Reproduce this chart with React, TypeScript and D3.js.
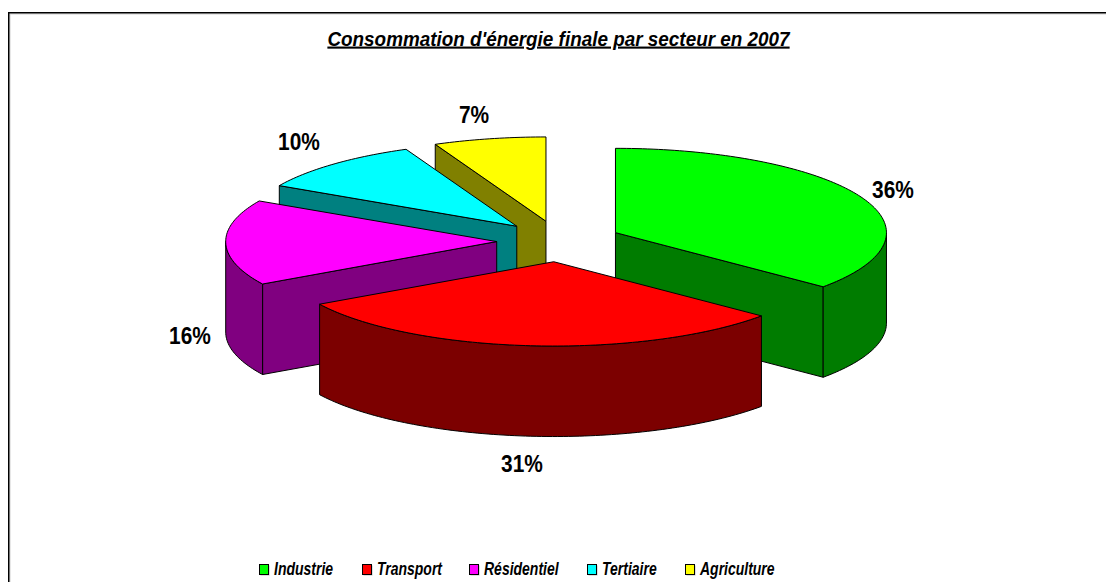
import React, { useEffect, useRef } from 'react';
import * as d3 from 'd3';

// Values (labels are rounded to whole percents)
const sectors = ['Industrie', 'Transport', 'Résidentiel', 'Tertiaire', 'Agriculture'];
const shares = [36.1, 30.5, 16.4, 10.3, 6.7];
const shareLabels = ['36%', '31%', '16%', '10%', '7%'];
const topColors = ['#00ff00', '#ff0000', '#ff00ff', '#00ffff', '#ffff00'];
const wallColors = ['#007c00', '#7c0000', '#800080', '#008080', '#808000'];

const title = "Consommation d'énergie finale par secteur en 2007";

const width = 1106;
const height = 582;

// Pie geometry
const cx = 559;
const cy = 241.3;
const rx = 271;
const ry = 84.3;
const depth = 90.5;
const explodeX = 62.3;
const explodeY = 20.5;

// Painter's order, back to front
const drawOrder = ['Agriculture', 'Tertiaire', 'Industrie', 'Résidentiel', 'Transport'];

// Label centres and legend starts, placed by hand like the original
const labelAnchors = [[893, 198], [522, 472], [190, 344], [299, 150], [474, 123]];
const legendStarts = [259, 362, 469, 587, 685];

const fontFamily = '"Liberation Sans", Arial, sans-serif';

const App = () => {
  const svgRef = useRef<SVGSVGElement>(null);

  useEffect(() => {
    const svg = d3.select(svgRef.current);
    svg.selectAll('*').remove();

    const color = d3.scaleOrdinal<string, string>().domain(sectors).range(topColors);
    const wall = d3.scaleOrdinal<string, string>().domain(sectors).range(wallColors);

    const arcs = d3.pie<number>().sort(null).startAngle(0).endAngle(2 * Math.PI)(shares);
    const line = d3.line();

    // Frame: shadow first, then the black rule
    svg.append('path')
      .attr('d', `M10,${height} V14 H${width}`)
      .attr('fill', 'none')
      .attr('stroke', '#cfcfcf')
      .attr('stroke-width', 1);
    svg.append('path')
      .attr('d', `M8.75,${height} V12.75 H${width}`)
      .attr('fill', 'none')
      .attr('stroke', '#000')
      .attr('stroke-width', 1.5);

    const face = (d: [number, number][], fill: string, parent: any) => {
      parent.append('path')
        .attr('d', line(d) + 'Z')
        .attr('fill', fill)
        .attr('stroke', '#000')
        .attr('stroke-width', 1)
        .attr('stroke-linejoin', 'round');
    };

    const sampleAngles = (a0: number, a1: number) => {
      const n = Math.max(2, Math.ceil(Math.abs(a1 - a0) / 0.02));
      return d3.range(n + 1).map(i => a0 + (a1 - a0) * i / n);
    };

    const slices = svg.append('g');

    drawOrder.forEach(name => {
      const i = sectors.indexOf(name);
      const { startAngle, endAngle } = arcs[i];
      const mid = (startAngle + endAngle) / 2;
      const ox = cx + explodeX * Math.sin(mid);
      const oy = cy - explodeY * Math.cos(mid);
      const pt = (a: number): [number, number] => [ox + rx * Math.sin(a), oy - ry * Math.cos(a)];
      const drop = (p: [number, number]): [number, number] => [p[0], p[1] + depth];
      const apex: [number, number] = [ox, oy];
      const g = slices.append('g').attr('class', 'slice');

      // Radial walls that face the viewer
      if (Math.sin(startAngle) < -1e-6) {
        const p = pt(startAngle);
        face([apex, p, drop(p), drop(apex)], wall(name), g);
      }
      if (Math.sin(endAngle) > 1e-6) {
        const p = pt(endAngle);
        face([apex, p, drop(p), drop(apex)], wall(name), g);
      }

      // Outer rim, only the near half of the ellipse shows
      const rimStart = Math.max(startAngle, Math.PI / 2);
      const rimEnd = Math.min(endAngle, 1.5 * Math.PI);
      if (rimEnd > rimStart) {
        const top = sampleAngles(rimStart, rimEnd).map(pt);
        face([...top, ...top.slice().reverse().map(drop)], wall(name), g);
      }

      // Top face
      face([apex, ...sampleAngles(startAngle, endAngle).map(pt)], color(name), g);
    });

    // Percent labels, the original font is narrower and taller than Liberation
    svg.append('g')
      .selectAll('text')
      .data(shareLabels)
      .join('text')
      .attr('transform', (_, i) => `translate(${labelAnchors[i][0]},${labelAnchors[i][1]}) scale(0.87,1)`)
      .attr('text-anchor', 'middle')
      .attr('font-family', fontFamily)
      .attr('font-weight', 'bold')
      .attr('font-size', 24)
      .attr('fill', '#000')
      .text(d => d);

    // Title
    svg.append('text')
      .attr('transform', 'translate(558.5,45.5) scale(0.9,1)')
      .attr('text-anchor', 'middle')
      .attr('font-family', fontFamily)
      .attr('font-weight', 'bold')
      .attr('font-style', 'italic')
      .attr('font-size', 21)
      .attr('text-decoration', 'underline')
      .attr('fill', '#000')
      .text(title);

    // Legend
    const legend = svg.append('g')
      .selectAll('g')
      .data(sectors)
      .join('g')
      .attr('transform', (_, i) => `translate(${legendStarts[i]},0)`);

    legend.append('rect')
      .attr('x', 1.5)
      .attr('y', 565.5)
      .attr('width', 9)
      .attr('height', 10)
      .attr('fill', '#bdbdbd');
    legend.append('rect')
      .attr('x', 0.5)
      .attr('y', 564.5)
      .attr('width', 9)
      .attr('height', 10)
      .attr('fill', d => color(d))
      .attr('stroke', '#000')
      .attr('stroke-width', 1);
    legend.append('text')
      .attr('transform', 'translate(15,574.5) scale(0.8,1)')
      .attr('font-family', fontFamily)
      .attr('font-weight', 'bold')
      .attr('font-style', 'italic')
      .attr('font-size', 17.5)
      .attr('fill', '#000')
      .text(d => d);
  }, []);

  return (
    <svg
      ref={svgRef}
      width={width}
      height={height}
      style={{ position: 'absolute', left: 0, top: 0, background: '#fff' }}
    />
  );
};

export default App;
